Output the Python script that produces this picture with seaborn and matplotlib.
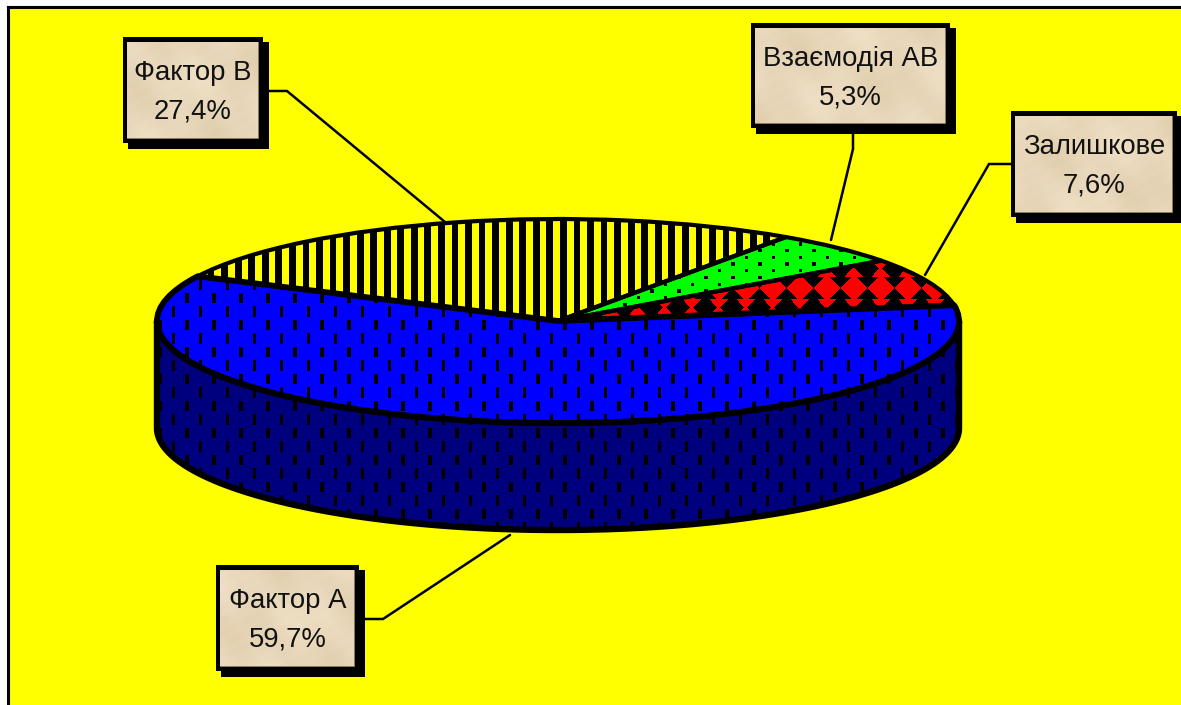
import numpy as np
import matplotlib
matplotlib.use("Agg")
import matplotlib.pyplot as plt
from matplotlib.patches import Polygon, Rectangle, Wedge
import seaborn as sns

# Variance shares, in the order the pie walks counter-clockwise
factors = ["Фактор А", "Залишкове", "Взаємодія АВ", "Фактор В"]
shares = [59.7, 7.6, 5.3, 27.4]
face_colors = ["#0000FF", "#000000", "#00FF00", "#FFFF00"]

W, H = 1181, 705
CX, CY, RX, RY, DEPTH = 558.0, 321.0, 401.0, 102.0, 107.0
START_ANGLE = 154

sns.set_style("white")
palette = sns.color_palette(face_colors)
plt.rcParams["font.family"] = ["Liberation Sans", "DejaVu Sans"]

fig = plt.figure(figsize=(W / 100, H / 100), dpi=100, facecolor="white")
ax = fig.add_axes([0, 0, 1, 1])
ax.set_zorder(1)


def ux(px):
    return (np.asarray(px, dtype=float) - CX) / RX


def uy(py):
    return (CY - np.asarray(py, dtype=float)) / RY


limits = (ux(0), ux(W), uy(H), uy(0))
yy, xx = np.mgrid[0:H, 0:W] + 0.5


def texture(mask_on, on, off):
    img = np.empty((H, W, 3))
    img[:] = off
    img[mask_on] = on
    return img


def paint(img, clip, zorder):
    im = ax.imshow(img, extent=limits, origin="upper", aspect="auto",
                   interpolation="nearest", zorder=zorder)
    im.set_clip_path(clip)
    return im


def dashes(phase_x, phase_y, half_h, half_w):
    # staggered short vertical strokes on a 27 px lattice
    rows = np.floor((yy - phase_y + 6.75) / 13.5)
    dx = (xx - phase_x - 13.5 * (rows % 2) + 13.5) % 27 - 13.5
    dy = (yy - phase_y + 6.75) % 13.5 - 6.75
    return (np.abs(dx) <= half_w) & (np.abs(dy) <= half_h)


def dots():
    rows = np.floor((yy - 244 + 3.35) / 6.7)
    dx = (xx - 773.5 - 13.5 * (rows % 2) + 13.5) % 27 - 13.5
    dy = (yy - 244 + 3.35) % 6.7 - 3.35
    return (np.abs(dx) <= 1.6) & (np.abs(dy) <= 1.6)


def diamonds():
    dx = (xx - 826.7 + 13.5) % 27 - 13.5
    dy = (yy - 288 + 19.5) % 39 - 19.5
    body = np.abs(dx) + np.abs(dy) <= 13.5
    oy = (yy - 307.5 + 19.5) % 39 - 19.5
    waist = 1.5 + np.abs(oy) * 0.95
    neck = (np.abs(dx) <= waist) & (np.abs(oy) <= 8)
    return body | neck


blue = (0, 0, 1)
navy = (0, 0, 0.5)
black = (0, 0, 0)
stripe_mask = (xx - 560) % 13.55 < 6.8

# Background panel with the rule along its top and left sides
fig.patches.append(Rectangle((8 / W, 0), 1, 1 - 7 / H, transform=fig.transFigure,
                             facecolor="#FFFF00", edgecolor="none", zorder=-5))
ax.patch.set_alpha(0)
ax.plot(ux([8.5, 8.5]), uy([H, 6.5]), color="black", lw=2.2, zorder=1,
        solid_capstyle="projecting")
ax.plot(ux([8.5, W]), uy([6.5, 6.5]), color="black", lw=2.2, zorder=1,
        solid_capstyle="projecting")

# Cylinder wall below the front of the pie
theta = np.radians(np.linspace(180, 360, 241))
rim_x, rim_y = np.cos(theta), np.sin(theta)
drop = DEPTH / RY
wall_xy = np.column_stack([np.r_[rim_x, rim_x[::-1]], np.r_[rim_y, rim_y[::-1] - drop]])
wall = Polygon(wall_xy, closed=True, facecolor=navy, edgecolor="none", zorder=2)
ax.add_patch(wall)
paint(texture(dashes(187, 298, 5, 1.8), black, navy), wall, 2.1)
ax.add_patch(Polygon(wall_xy, closed=True, fill=False, edgecolor="black", lw=4.6,
                     joinstyle="round", zorder=2.2))

# Top face
wedges, _ = ax.pie(shares, startangle=START_ANGLE, counterclock=True, colors=palette,
                   normalize=True, frame=True, wedgeprops=dict(linewidth=0, zorder=3))
ax.set_aspect("auto")

face_textures = [
    texture(dashes(187, 298, 5, 1.8), black, blue),
    texture(diamonds(), (1, 0, 0), black),
    texture(dots(), black, (0, 1, 0)),
    texture(stripe_mask, black, (1, 1, 0)),
]
for wedge, tex in zip(wedges, face_textures):
    paint(tex, wedge, 3.1)

# The back slices get a lighter outline; the large front slice goes on last, heavier
edge_widths = [4.2, 3.0, 3.0, 3.0]
for i in [1, 2, 3, 0]:
    wedge = wedges[i]
    ax.add_patch(Wedge(wedge.center, wedge.r, wedge.theta1, wedge.theta2, fill=False,
                       edgecolor="black", lw=edge_widths[i], joinstyle="round", zorder=3.2))

# Callout boxes: (outer left, outer top, outer right, outer bottom) and leader vertices
boxes = {
    "Фактор А": ((216, 565, 359, 671), [(365, 619), (383, 619), (510, 535)]),
    "Фактор В": ((123, 37, 263, 143), [(269, 91), (287, 91), (445, 222)]),
    "Взаємодія АВ": ((751, 23, 950, 128), [(853, 134), (853, 149), (831, 240)]),
    "Залишкове": ((1011, 111, 1177, 217), [(1011, 164), (989, 164), (925, 275)]),
}

# Soft parchment mottling for the box fill, built from a few overlapping waves
paper = (np.sin(xx / 17.0 + yy / 29.0) + np.sin(xx / 7.3 - yy / 11.0) * 0.6
         + np.sin((xx + 2 * yy) / 4.1) * 0.25 + np.cos(yy / 13.0 - xx / 31.0))[..., None]
parchment = np.clip((np.array([232, 215, 186]) + paper * np.array([2.5, 3, 4])) / 255, 0, 1)

for name, share in zip(factors, shares):
    (x0, y0, x1, y1), leader = boxes[name]
    lx, ly = zip(*leader)
    ax.plot(ux(lx), uy(ly), color="black", lw=1.8, zorder=4, solid_joinstyle="miter")
    ax.add_patch(Rectangle((ux(x0 + 5), uy(y1 + 6)), ux(x1 + 6) - ux(x0 + 5), uy(y0 + 5) - uy(y1 + 6),
                           facecolor="black", edgecolor="none", zorder=5))
    ax.add_patch(Rectangle((ux(x0), uy(y1)), ux(x1) - ux(x0), uy(y0) - uy(y1),
                           facecolor="black", edgecolor="none", zorder=5.1))
    inner = Rectangle((ux(x0 + 4.5), uy(y1 - 5)), ux(x1 - 5) - ux(x0 + 4.5), uy(y0 + 5) - uy(y1 - 5),
                      facecolor="#E7D5B7", edgecolor="#8C7A60", lw=0.7, zorder=5.2)
    ax.add_patch(inner)
    paint(parchment, inner, 5.3)
    mid = (x0 + x1) / 2
    ax.text(ux(mid), uy(y0 + 43), name, ha="center", va="baseline", fontsize=19.8,
            color="#111111", zorder=6)
    ax.text(ux(mid), uy(y0 + 81), f"{share:.1f}%".replace(".", ","), ha="center",
            va="baseline", fontsize=19.8, color="#111111", zorder=6)

ax.set_xlim(limits[0], limits[1])
ax.set_ylim(limits[2], limits[3])
ax.axis("off")

fig.savefig("out.png", dpi=100, facecolor="white")
